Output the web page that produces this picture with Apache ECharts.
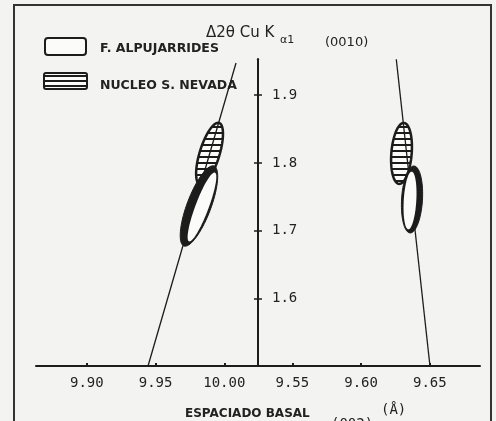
<!DOCTYPE html>
<html><head><meta charset="utf-8">
<script src="https://cdn.jsdelivr.net/npm/echarts@6/dist/echarts.min.js"></script>
<style>html,body{margin:0;padding:0;background:#f3f3f1}#c{width:496px;height:421px}</style>
</head><body><div id="c"></div>
<script>
// ---- data ----
const leftTicks = [9.90, 9.95, 10.00];
const rightTicks = [9.55, 9.60, 9.65];
const yTicks = [1.6, 1.7, 1.8, 1.9];
const leftRange = [9.863, 10.0245];
const rightRange = [9.525, 9.6865];
const yRange = [1.5, 1.953];
// trend lines [x, y]
const leftLine = [[9.9445, 1.5], [10.0085, 1.9476]];
const rightLine = [[9.6501, 1.5], [9.6256, 1.953]];
// domains: [xTop, yTop, xBottom, yBottom, halfWidth(x units)]
const nevadaLeft = [[9.9962, 1.8590, 9.9823, 1.7680, 0.0072]];
const nevadaRight = [[9.6312, 1.8590, 9.6276, 1.7690, 0.0074]];
const alpuLeft = [[9.9925, 1.7954, 9.9706, 1.6773, 0.0087]];
const alpuRight = [[9.6385, 1.7954, 9.6356, 1.6965, 0.0076]];

const INK = '#1c1c1c';
const BG = '#f3f3f1';
const PAPER = '#fbfbfa';

function hatchCanvas(step, thick) {
  const c = document.createElement('canvas');
  c.width = 6; c.height = step;
  const g = c.getContext('2d');
  g.fillStyle = PAPER; g.fillRect(0, 0, 6, step);
  g.fillStyle = INK; g.fillRect(0, 0, 6, thick);
  return c;
}
const hatch = { image: hatchCanvas(6, 2), repeat: 'repeat' };
const hatchLegend = { image: hatchCanvas(5, 2), repeat: 'repeat' };

function ellipsePts(cx, cy, a, b, ang) {
  const ca = Math.cos(ang), sa = Math.sin(ang);
  const pts = [];
  for (let i = 0; i < 72; i++) {
    const t = i / 72 * Math.PI * 2;
    const lx = a * Math.cos(t), ly = b * Math.sin(t);
    pts.push([cx + lx * ca - ly * sa, cy + lx * sa + ly * ca]);
  }
  return pts;
}
function geom(api) {
  const p1 = api.coord([api.value(0), api.value(1)]);
  const p2 = api.coord([api.value(2), api.value(3)]);
  const hw = api.size([api.value(4), 0])[0];
  const dx = p2[0] - p1[0], dy = p2[1] - p1[1];
  return { cx: (p1[0] + p2[0]) / 2, cy: (p1[1] + p2[1]) / 2,
    a: Math.sqrt(dx * dx + dy * dy) / 2, b: hw, ang: Math.atan2(dy, dx) };
}
function hatchedItem(params, api) {
  const g = geom(api);
  return { type: 'polygon', shape: { points: ellipsePts(g.cx, g.cy, g.a, g.b, g.ang) },
    style: { fill: hatch, stroke: INK, lineWidth: 2.5 } };
}
function openItem(shift, wScale) {
  return function (params, api) {
    const g = geom(api);
    return { type: 'group', children: [
      { type: 'polygon', shape: { points: ellipsePts(g.cx, g.cy, g.a, g.b, g.ang) },
        style: { fill: INK, stroke: INK, lineWidth: 1 } },
      { type: 'polygon', shape: { points: ellipsePts(g.cx + shift, g.cy + 1, g.a * 0.86, g.b * wScale, g.ang) },
        style: { fill: PAPER } }
    ] };
  };
}

const chart = echarts.init(document.getElementById('c'));
const gridTop = 59.3, gridH = 306.7;
function xAx(idx, range, ticks) {
  return {
    type: 'value', gridIndex: idx, min: range[0], max: range[1],
    axisLine: { show: true, lineStyle: { color: INK, width: 2 } },
    axisTick: { show: true, inside: true, length: 3, customValues: ticks, lineStyle: { color: INK, width: 2 } },
    axisLabel: { show: true, customValues: ticks, margin: 10, color: '#222',
      fontFamily: 'DejaVu Sans Mono', fontSize: 14, formatter: v => v.toFixed(2) },
    splitLine: { show: false }
  };
}
chart.setOption({
  backgroundColor: BG,
  animation: false,
  grid: [
    { left: 36, top: gridTop, width: 222, height: gridH },
    { left: 258, top: gridTop, width: 222, height: gridH }
  ],
  xAxis: [xAx(0, leftRange, leftTicks), xAx(1, rightRange, rightTicks)],
  yAxis: [
    { type: 'value', gridIndex: 0, position: 'right', min: yRange[0], max: yRange[1],
      axisLine: { show: true, lineStyle: { color: INK, width: 2 } },
      axisTick: { show: true, length: 4, customValues: yTicks, lineStyle: { color: INK, width: 1.5 } },
      axisLabel: { show: false }, splitLine: { show: false } },
    { type: 'value', gridIndex: 1, position: 'left', min: yRange[0], max: yRange[1],
      axisLine: { show: true, lineStyle: { color: INK, width: 2 } },
      axisTick: { show: true, length: 4, customValues: yTicks, lineStyle: { color: INK, width: 1.5 } },
      axisLabel: { show: true, inside: true, margin: 14, customValues: yTicks, color: '#222',
        fontFamily: 'DejaVu Sans Mono', fontSize: 14, formatter: v => v.toFixed(1) },
      splitLine: { show: false } }
  ],
  series: [
    { type: 'custom', name: 'NUCLEO S. NEVADA', xAxisIndex: 0, yAxisIndex: 0, z: 2, data: nevadaLeft, renderItem: hatchedItem },
    { type: 'custom', name: 'NUCLEO S. NEVADA', xAxisIndex: 1, yAxisIndex: 1, z: 2, data: nevadaRight, renderItem: hatchedItem },
    { type: 'line', xAxisIndex: 0, yAxisIndex: 0, z: 3, data: leftLine, symbol: 'none', clip: false, lineStyle: { color: INK, width: 1.3 } },
    { type: 'line', xAxisIndex: 1, yAxisIndex: 1, z: 3, data: rightLine, symbol: 'none', clip: false, lineStyle: { color: INK, width: 1.3 } },
    { type: 'custom', name: 'F. ALPUJARRIDES', xAxisIndex: 0, yAxisIndex: 0, z: 4, data: alpuLeft, renderItem: openItem(3, 0.55) },
    { type: 'custom', name: 'F. ALPUJARRIDES', xAxisIndex: 1, yAxisIndex: 1, z: 4, data: alpuRight, renderItem: openItem(-2, 0.6) }
  ],
  graphic: [
    { type: 'rect', shape: { x: 14, y: 5, width: 477, height: 440 }, style: { fill: null, stroke: '#333', lineWidth: 2 }, silent: true },
    // legend
    { type: 'rect', shape: { x: 45, y: 38, width: 41, height: 17, r: 3 }, style: { fill: PAPER, stroke: INK, lineWidth: 2 } },
    { type: 'text', x: 100, y: 49, style: { text: 'F. ALPUJARRIDES', fill: '#222', font: 'bold 12.5px "DejaVu Sans"', verticalAlign: 'middle' } },
    { type: 'rect', shape: { x: 44, y: 73, width: 43, height: 16, r: 2 }, style: { fill: hatchLegend, stroke: INK, lineWidth: 2 } },
    { type: 'text', x: 100, y: 86, style: { text: 'NUCLEO S. NEVADA', fill: '#222', font: 'bold 12.5px "DejaVu Sans"', verticalAlign: 'middle' } },
    // title
    { type: 'text', x: 206, y: 33, style: { text: 'Δ2θ Cu K', fill: '#222', font: '15px "DejaVu Sans"', verticalAlign: 'middle' } },
    { type: 'text', x: 280, y: 40, style: { text: 'α1', fill: '#222', font: '11px "DejaVu Sans"', verticalAlign: 'middle' } },
    { type: 'text', x: 325, y: 43, style: { text: '(0010)', fill: '#222', font: '13px "DejaVu Sans"', verticalAlign: 'middle' } },
    // x axis title
    { type: 'text', x: 185, y: 414, style: { text: 'ESPACIADO BASAL', fill: '#222', font: 'bold 12px "DejaVu Sans"', verticalAlign: 'middle' } },
    { type: 'text', x: 331, y: 424, style: { text: '(002)', fill: '#222', font: '14px "DejaVu Sans Mono"', verticalAlign: 'middle' } },
    { type: 'text', x: 381, y: 410, style: { text: '(Å)', fill: '#222', font: '14px "DejaVu Sans Mono"', verticalAlign: 'middle' } }
  ]
});
</script></body></html>
